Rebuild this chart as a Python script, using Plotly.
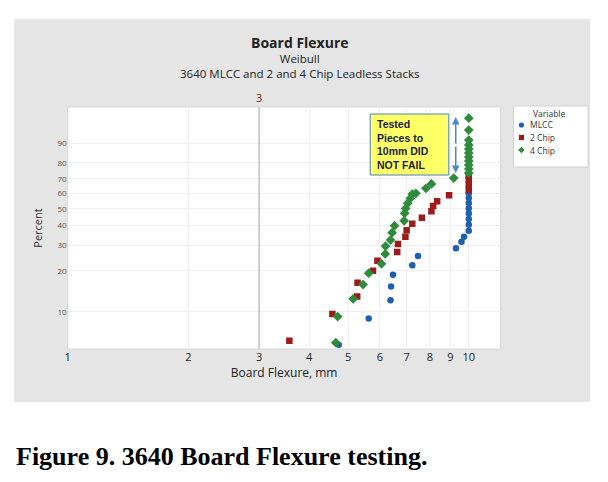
import numpy as np
import plotly.graph_objects as go

# page body has an 8px default margin, so the figure is 8px smaller and shifted
OFF = 8
W, H = 608 - OFF, 482 - OFF

# ---- data (Board Flexure mm, cumulative percent) ----
mlcc_x = [4.74, 5.63, 6.38, 6.40, 6.47, 7.23, 7.47, 9.29, 9.59, 9.73,
          10, 10, 10, 10, 10, 10, 10, 10]
mlcc_p = [5.6, 8.9, 12.2, 15.4, 18.7, 21.9, 25.3, 28.6, 31.6, 34.0,
          37.2, 40.5, 43.8, 47.1, 50.4, 53.7, 57.0, 60.3]

chip2_x = [3.57, 4.57, 5.27, 5.28, 5.77, 5.92, 6.63, 6.66, 6.95, 7.00,
           7.23, 7.64, 8.07, 8.15, 8.34, 8.93, 10, 10, 10, 10]
chip2_p = [6.0, 9.6, 13.0, 16.4, 20.0, 23.5, 27.0, 30.5, 34.0, 37.4,
           41.0, 44.5, 48.5, 51.8, 54.9, 58.9, 62.4, 65.9, 69.4, 72.0]

chip4_x = [4.66, 4.71, 5.15, 5.45, 5.63, 6.06, 6.19, 6.20, 6.38, 6.44,
           6.53, 6.90, 6.92, 6.96, 7.04, 7.15, 7.23, 7.38, 7.82, 8.07,
           9.17, 10, 10, 10, 10, 10, 10, 10, 10, 10, 10, 10]
chip4_p = [5.8, 9.2, 12.5, 15.9, 19.2, 22.4, 26.2, 29.5, 32.4, 36.1,
           39.9, 42.7, 47.2, 50.3, 53.6, 56.9, 59.7, 60.2, 63.6, 66.5,
           70.4, 73.7, 76.3, 78.7, 81.1, 83.3, 85.5, 87.4, 89.3, 91.3, 94.7, 97.4]

x_ticks = [1, 2, 3, 4, 5, 6, 7, 8, 9, 10]
y_ticks = [10, 20, 30, 40, 50, 60, 70, 80, 90]

series_names = ["MLCC", "2 Chip", "4 Chip"]
series_colors = ["#1f5fb0", "#9e1b1b", "#2e8b3a"]


def weib(p):
    p = np.asarray(p, dtype=float) / 100.0
    return np.log(-np.log(1.0 - p))


def px(x):
    return (x - OFF) / W


def py(y):
    return 1 - (y - OFF) / H


FONT = "Open Sans"
fig = go.Figure()

fig.add_trace(go.Scatter(x=mlcc_x, y=weib(mlcc_p), mode="markers", name=series_names[0],
                         marker=dict(symbol="circle", size=6.5, color=series_colors[0])))
fig.add_trace(go.Scatter(x=chip2_x, y=weib(chip2_p), mode="markers", name=series_names[1],
                         marker=dict(symbol="square", size=6.5, color=series_colors[1])))
fig.add_trace(go.Scatter(x=chip4_x, y=weib(chip4_p), mode="markers", name=series_names[2],
                         marker=dict(symbol="diamond", size=7.5, color=series_colors[2])))

shapes = [
    # grey panel
    dict(type="rect", xref="paper", yref="paper", x0=px(11), x1=px(590), y0=py(402), y1=py(19),
         fillcolor="#e5e5e5", line=dict(width=0), layer="below"),
    # white plot area
    dict(type="rect", xref="paper", yref="paper", x0=px(65), x1=px(500), y0=py(349), y1=py(107),
         fillcolor="white", line=dict(color="#d6d6d6", width=1), layer="below"),
    # legend box
    dict(type="rect", xref="paper", yref="paper", x0=px(513), x1=px(588), y0=py(167), y1=py(106),
         fillcolor="white", line=dict(color="#d0d0d0", width=1), layer="below"),
    # reference line at 3
    dict(type="line", xref="x", yref="paper", x0=3, x1=3, y0=py(349), y1=py(107),
         line=dict(color="#a8a8a8", width=1)),
    # annotation box
    dict(type="rect", xref="paper", yref="paper", x0=px(369), x1=px(448), y0=py(175), y1=py(114),
         fillcolor="#ffff66", line=dict(color="#4a7ebb", width=1)),
]

# legend key symbols (decoration)
lx, ly = 521, [125, 137.5, 150]
r = 2.6
shapes.append(dict(type="circle", xref="paper", yref="paper",
                   x0=px(lx - r), x1=px(lx + r), y0=py(ly[0] + r), y1=py(ly[0] - r),
                   fillcolor=series_colors[0], line=dict(width=0)))
shapes.append(dict(type="rect", xref="paper", yref="paper",
                   x0=px(lx - r), x1=px(lx + r), y0=py(ly[1] + r), y1=py(ly[1] - r),
                   fillcolor=series_colors[1], line=dict(width=0)))
d = 3.3
dpath = "M {} {} L {} {} L {} {} L {} {} Z".format(
    px(lx), py(ly[2] - d), px(lx + d), py(ly[2]), px(lx), py(ly[2] + d), px(lx - d), py(ly[2]))
shapes.append(dict(type="path", xref="paper", yref="paper", path=dpath,
                   fillcolor=series_colors[2], line=dict(width=0)))

annotations = [
    dict(text="<b>Board Flexure</b>", x=px(298), y=py(43), xref="paper", yref="paper",
         xanchor="center", yanchor="middle",
         showarrow=False, font=dict(family=FONT, size=14, color="#222")),
    dict(text="Weibull<br>3640 MLCC and 2 and 4 Chip Leadless Stacks", x=px(298), y=py(65.5),
         xref="paper", yref="paper", xanchor="center", yanchor="middle",
         showarrow=False, font=dict(family=FONT, size=11.5, color="#222")),
    dict(text="3", x=np.log10(3), y=py(97), xref="x", yref="paper", showarrow=False,
         xanchor="center", yanchor="middle",
         font=dict(family=FONT, size=11, color="#8b2020")),
    dict(text="<b>Tested<br>Pieces to<br>10mm DID<br>NOT FAIL</b>", x=px(374), y=py(144.5),
         xref="paper", yref="paper", xanchor="left", yanchor="middle", align="left",
         showarrow=False, font=dict(family="Liberation Sans", size=10.5, color="#1c2333")),
    dict(text="", x=px(455), y=py(117), xref="paper", yref="paper", ax=0, ay=28,
         showarrow=True, arrowhead=2, arrowsize=1, arrowwidth=1.5, arrowcolor="#4a86c8"),
    dict(text="", x=px(455), y=py(173), xref="paper", yref="paper", ax=0, ay=-28,
         showarrow=True, arrowhead=2, arrowsize=1, arrowwidth=1.5, arrowcolor="#4a86c8"),
    dict(text="Variable", x=px(549), y=py(114), xref="paper", yref="paper",
         xanchor="center", yanchor="middle", showarrow=False,
         font=dict(family=FONT, size=8.5, color="#333")),
    dict(text="<b>Figure 9. 3640 Board Flexure testing.</b>", x=px(11), y=py(456),
         xref="paper", yref="paper", xanchor="left", yanchor="middle", showarrow=False,
         font=dict(family="Liberation Serif", size=26, color="black")),
]
for name, yy in zip(series_names, ly):
    annotations.append(dict(text=name, x=px(528), y=py(yy), xref="paper", yref="paper",
                            xanchor="left", yanchor="middle", showarrow=False,
                            font=dict(family=FONT, size=8.5, color="#333")))

fig.update_layout(
    width=W, height=H,
    margin=dict(l=0, r=0, t=0, b=0),
    paper_bgcolor="white", plot_bgcolor="white",
    font=dict(family=FONT, color="#333"),
    shapes=shapes, annotations=annotations,
    showlegend=False,
    xaxis=dict(type="log", domain=[px(65), px(500)], range=[0, np.log10(12.0)],
               tickvals=x_ticks, ticktext=[str(v) for v in x_ticks],
               showgrid=True, gridcolor="#efefef", zeroline=False, ticks="",
               tickfont=dict(size=11, color="#222"),
               title=dict(text="Board Flexure, mm", font=dict(size=12, color="#222"), standoff=4)),
    yaxis=dict(domain=[py(349), py(107)], range=[-2.933, 1.499],
               tickvals=weib(y_ticks).tolist(), ticktext=[str(v) for v in y_ticks],
               showgrid=True, gridcolor="#efefef", zeroline=False, ticks="",
               tickfont=dict(size=8, color="#555"),
               title=dict(text="Percent", font=dict(size=11, color="#333"), standoff=12)),
)

fig.write_html("out.html")
